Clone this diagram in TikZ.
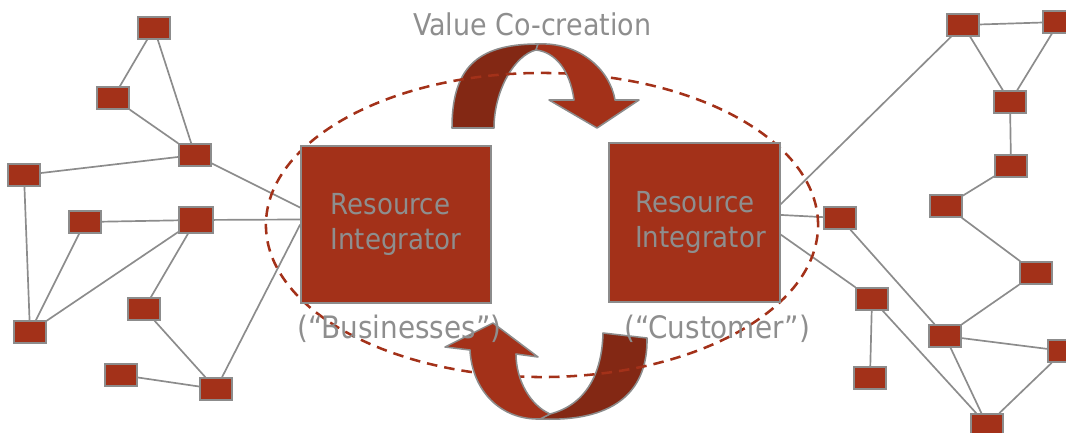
\documentclass[tikz,border=0pt]{standalone}
\usepackage{fontspec}
\setmainfont{DejaVu Sans Condensed}

\definecolor{boxred}{HTML}{A33119}
\definecolor{darkred}{HTML}{832814}
\definecolor{linegray}{HTML}{8C8C8C}
\definecolor{textgray}{HTML}{8E8E8E}

\pgfdeclarelayer{back}
\pgfsetlayers{back,main}

\begin{document}
\begin{tikzpicture}[x=0.025cm, y=-0.025cm,
  sq/.style={draw=linegray, fill=boxred, line width=1.1pt, minimum width=0.8cm, minimum height=0.55cm, inner sep=0pt},
  integrator/.style={draw=linegray, fill=boxred, line width=1.1pt, inner sep=0pt, text=textgray, align=left, font=\fontsize{20.6}{24.8}\selectfont},
  caption/.style={text=textgray, inner sep=0pt, anchor=base west},
  link/.style={linegray, line width=1.2pt},
  band/.style={draw=linegray, line width=1.1pt, line join=round}]

\useasboundingbox (0,0) rectangle (1066,433);

% left network
\node[sq] (a1) at (154,28) {};
\node[sq] (a2) at (113,98) {};
\node[sq] (a3) at (195,155) {};
\node[sq] (a4) at (24,175) {};
\node[sq] (a5) at (85,222) {};
\node[sq, minimum width=0.85cm, minimum height=0.65cm] (a6) at (196,220) {};
\node[sq] (a7) at (144,309) {};
\node[sq] (a8) at (30,332) {};
\node[sq] (a9) at (121,375) {};
\node[sq] (a10) at (216,389) {};

% right network
\node[sq] (b1) at (963,25) {};
\node[sq] (b2) at (1059,22) {};
\node[sq] (b3) at (1010,102) {};
\node[sq] (b4) at (1011,166) {};
\node[sq] (b5) at (946,206) {};
\node[sq] (b6) at (840,218) {};
\node[sq] (b7) at (1036,273) {};
\node[sq] (b8) at (872,299) {};
\node[sq] (b9) at (945,336) {};
\node[sq] (b10) at (1064,351) {};
\node[sq] (b11) at (870,378) {};
\node[sq] (b12) at (987,425) {};

% circular arrows, back halves
\filldraw[band, fill=darkred] (452,128) .. controls (452,70) and (475,44) .. (538,44) -- (536,50) .. controls (515,55) and (494,90) .. (494,128) -- cycle;
\filldraw[band, fill=darkred] (603,333) -- (647,338) .. controls (648,395) and (610,422) .. (540,419) -- (550,414) .. controls (585,405) and (602,375) .. (603,333) -- cycle;

\draw[boxred, line width=1.8pt, dash pattern=on 7.5pt off 5pt] (542,225) ellipse [x radius=6.9cm, y radius=3.8cm];

% circular arrows, front halves
\filldraw[band, fill=boxred] (538,44) .. controls (580,42) and (610,70) .. (615,100) -- (639,100) -- (597,128) -- (549,100) -- (574,100) .. controls (570,70) and (555,52) .. (536,50) -- cycle;
\filldraw[band, fill=boxred] (540,419) .. controls (500,420) and (472,390) .. (470,350) -- (445,347) -- (493,323) -- (538,357) -- (516,354) .. controls (516,380) and (530,405) .. (550,414) -- cycle;

\node[integrator, minimum width=4.75cm, minimum height=3.925cm] (ri1) at (396,224.5) {Resource\\Integrator};
\node[integrator, minimum width=4.275cm, minimum height=3.975cm] (ri2) at (694.5,222.5) {\hspace*{0.3cm}Resource\\\hspace*{0.3cm}Integrator};

\begin{pgfonlayer}{back}
\draw[link] (a1) -- (a2);
\draw[link] (a1) -- (a3);
\draw[link] (a2) -- (a3);
\draw[link] (a3) -- (a4);
\draw[link] (a3) -- (ri1.170);
\draw[link] (a6) -- (ri1.177);
\draw[link] (a6) -- (a5);
\draw[link] (a6) -- (a8);
\draw[link] (a6) -- (a7);
\draw[link] (a5) -- (a8);
\draw[link] (a4) -- (a8);
\draw[link] (a7) -- (a10);
\draw[link] (a9) -- (a10);
\draw[link] (a10) -- (ri1.180);

\draw[link] (ri2.12) -- (b1);
\draw[link] (ri2.5) -- (b6);
\draw[link] (ri2.-8) -- (b8);
\draw[link] (b1) -- (b2);
\draw[link] (b1) -- (b3);
\draw[link] (b2) -- (b3);
\draw[link] (b3) -- (b4);
\draw[link] (b4) -- (b5);
\draw[link] (b5) -- (b7);
\draw[link] (b7) -- (b9);
\draw[link] (b6) -- (b9);
\draw[link] (b8) -- (b11);
\draw[link] (b8) -- (b12);
\draw[link] (b9) -- (b10);
\draw[link] (b9) -- (b12);
\draw[link] (b10) -- (b12);
\end{pgfonlayer}

\node[caption, font=\fontsize{21.3}{25}\selectfont] (vcc) at (413,36) {Value Co-creation};
\node[caption, font=\fontsize{22}{26}\selectfont] (biz) at (297,338) {(“Businesses”)};
\node[caption, font=\fontsize{22}{26}\selectfont] (cust) at (624,338) {(“Customer”)};
\end{tikzpicture}
\end{document}
